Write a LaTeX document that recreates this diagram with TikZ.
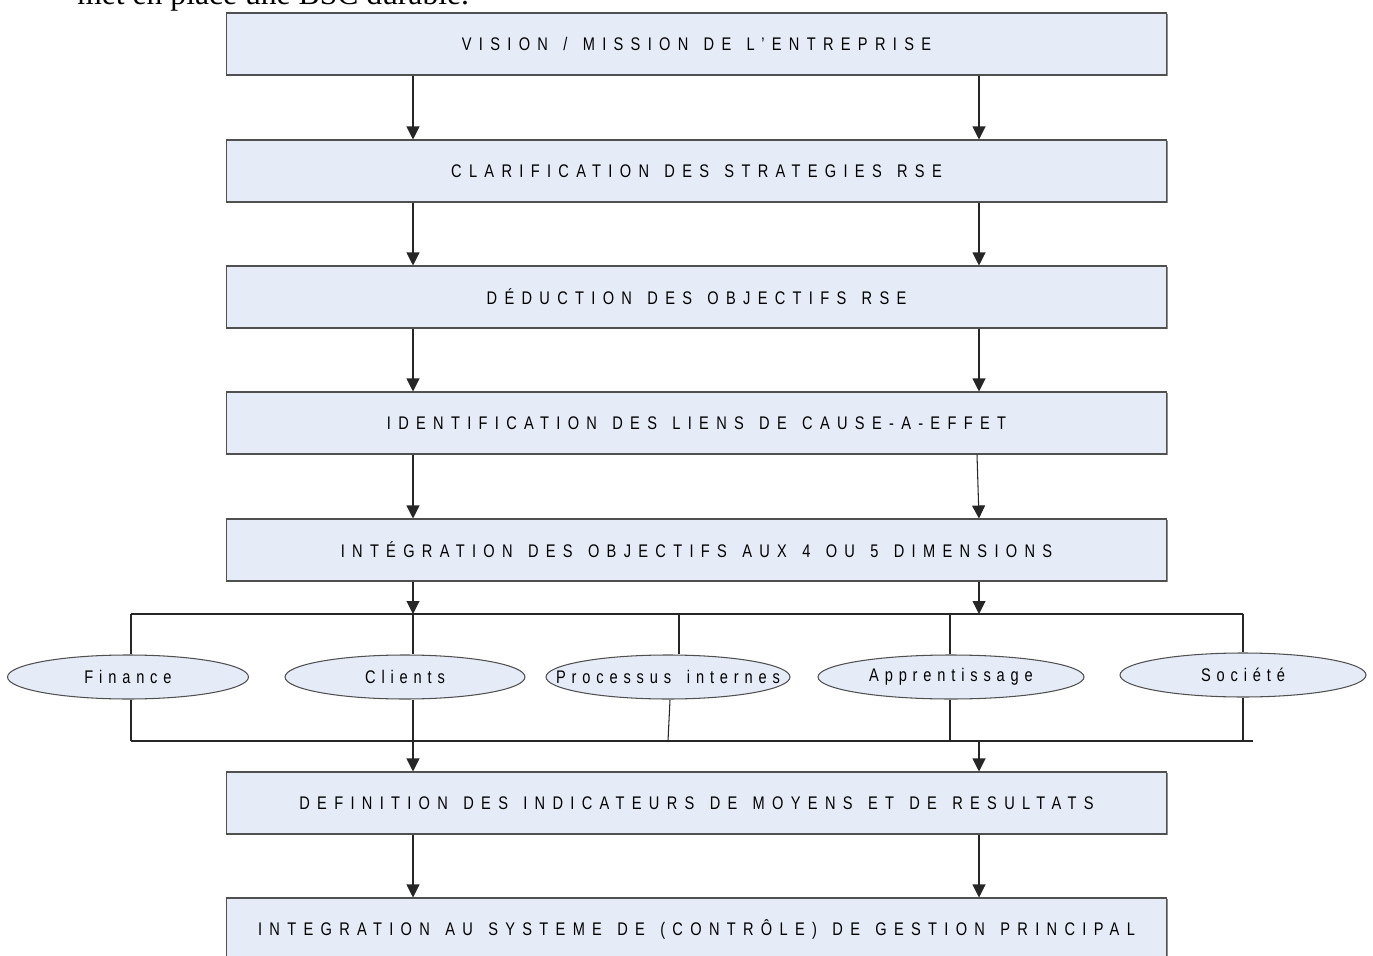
\documentclass[tikz,border=0pt]{standalone}
\usepackage{fontspec}
\setmainfont{Liberation Serif}
\newfontfamily\stagefont[LetterSpace=40,FakeStretch=0.8,WordSpace=1.35]{Liberation Sans}
\newfontfamily\dimfont[LetterSpace=32,FakeStretch=0.8,WordSpace=1.6]{Liberation Sans}
\usetikzlibrary{arrows.meta,shapes.geometric,shadows}
\definecolor{boxfill}{RGB}{230,236,247}
\definecolor{edge}{RGB}{80,80,80}
% label centred on its ellipse without widening it
\newcommand{\dimlabel}[1]{\makebox[0pt]{#1}}
\begin{document}
\begin{tikzpicture}[x=0.02cm,y=-0.02cm,
  stage/.style={draw=edge, fill=boxfill, line width=0.6pt, minimum width=18.82cm,
    minimum height=1.24cm, inner sep=0pt, font=\stagefont\fontsize{10.4}{12}\selectfont,
    drop shadow={shadow xshift=0.6pt, shadow yshift=-0.6pt, fill=black!45, opacity=1}},
  dim/.style={ellipse, draw=edge, fill=boxfill, line width=0.6pt, inner sep=0pt,
    minimum height=0.88cm, font=\dimfont\fontsize{10.4}{12}\selectfont},
  link/.style={draw=black!85, line width=0.6pt},
  arr/.style={link, -{Triangle[width=7.4pt,length=7.4pt]}}]
\clip (0,0) rectangle (1373,956);

% closing words of the paragraph running above the chart
\node[anchor=base west, inner sep=0pt, font=\fontsize{18}{20}\selectfont] (intro) at (77,5) {met en place une BSC durable.};

% stages of the chart
\node[stage] (s1) at (696.5,44) {VISION / MISSION DE L’ENTREPRISE};
\node[stage] (s2) at (696.5,171) {CLARIFICATION DES STRATEGIES RSE};
\node[stage] (s3) at (696.5,297) {DÉDUCTION DES OBJECTIFS RSE};
\node[stage] (s4) at (696.5,423) {IDENTIFICATION DES LIENS DE CAUSE-A-EFFET};
\node[stage] (s5) at (696.5,550) {INTÉGRATION DES OBJECTIFS AUX 4 OU 5 DIMENSIONS};
\node[stage] (s6) at (696.5,803) {DEFINITION DES INDICATEURS DE MOYENS ET DE RESULTATS};
\node[stage] (s7) at (696.5,929) {INTEGRATION AU SYSTEME DE (CONTRÔLE) DE GESTION PRINCIPAL};

% columns of the arrows
\coordinate (L) at (413,0);
\coordinate (R) at (979,0);

\foreach \a/\b in {s1/s2,s2/s3,s3/s4,s6/s7}{
  \draw[arr] (\a.south -| L) -- (\b.north -| L);
  \draw[arr] (\a.south -| R) -- (\b.north -| R);
}
\draw[arr] (s4.south -| L) -- (s5.north -| L);
\draw[arr] ([xshift=-0.04cm]s4.south -| R) -- (s5.north -| R);

% the dimensions
\node[dim, minimum width=4.82cm] (fin) at (128,677) {\dimlabel{Finance}};
\node[dim, minimum width=4.80cm] (cli) at (405,677) {\dimlabel{Clients}};
\node[dim, minimum width=4.88cm] (pro) at (668,677) {\dimlabel{Processus internes}};
\node[dim, minimum width=5.32cm] (app) at (951,677) {\dimlabel{Apprentissage}};
\node[dim, minimum width=4.92cm] (soc) at (1243,675) {\dimlabel{Société}};

% upper rail and its drops
\coordinate (t1) at (131,614);
\coordinate (t2) at (413,614);
\coordinate (t3) at (679,614);
\coordinate (t4) at (950,614);
\coordinate (t5) at (1243,614);
\coordinate (tl) at (979,614);
\draw[link] (t1) -- (t5);
\draw[arr] (s5.south -| L) -- (t2);
\draw[arr] (s5.south -| R) -- (tl);
\draw[link] (t1) -- (fin.north -| t1);
\draw[link] (t2) -- (cli.north -| t2);
\draw[link] (t3) -- (pro.north -| t3);
\draw[link] (t4) -- (app.north -| t4);
\draw[link] (t5) -- (soc.north -| t5);

% lower rail and its rises
\coordinate (u1) at (131,741);
\coordinate (u2) at (413,741);
\coordinate (u3) at (668,741);
\coordinate (u4) at (950,741);
\coordinate (u5) at (1243,741);
\coordinate (ue) at (1253,741);
\coordinate (ur) at (979,741);
\coordinate (p3) at (670,700);
\draw[link] (u1) -- (ue);
\draw[link] (fin.south -| u1) -- (u1);
\draw[link] (cli.south -| u2) -- (u2);
\draw[link] (p3) -- (u3);
\draw[link] (app.south -| u4) -- (u4);
\draw[link] (soc.south -| u5) -- (u5);
\draw[arr] (u2) -- (s6.north -| L);
\draw[arr] (ur) -- (s6.north -| R);
\end{tikzpicture}
\end{document}
